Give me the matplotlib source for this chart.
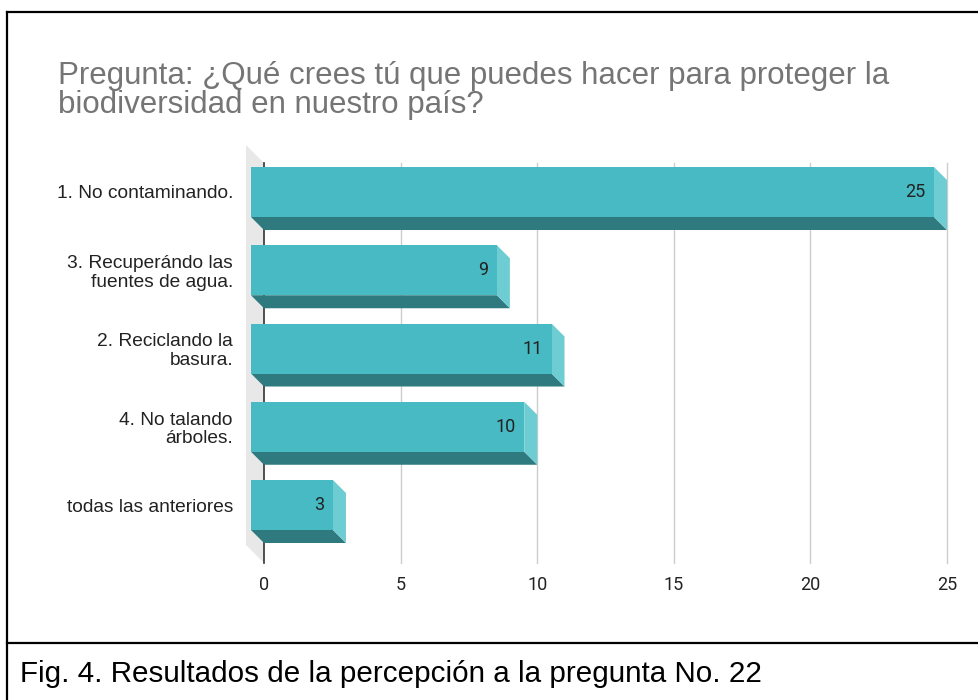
import numpy as np
import matplotlib.pyplot as plt
from matplotlib.patches import Polygon
from matplotlib.lines import Line2D

# ----------------------------
# Data
# ----------------------------
categories = [
    "1. No contaminando.",
    "3. Recuperándo las\nfuentes de agua.",
    "2. Reciclando la\nbasura.",
    "4. No talando\nárboles.",
    "todas las anteriores",
]
values = [25, 9, 11, 10, 3]
x_ticks = [0, 5, 10, 15, 20, 25]

title = "Pregunta: ¿Qué crees tú que puedes hacer para proteger la\nbiodiversidad en nuestro país?"
caption = "Fig. 4. Resultados de la percepción a la pregunta No. 22"

FRONT = "#47bac3"
BOTTOM = "#2e7a7e"
SIDE = "#6dcdd3"

W, H = 979, 700
plt.rcParams['font.family'] = ['Liberation Sans', 'DejaVu Sans']

fig = plt.figure(figsize=(W / 100, H / 100), dpi=100)

# axes placed in pixels (back plane of the 3d chart)
left_px, right_px, top_px, bottom_px = 264, 947, 163, 563
ax = fig.add_axes([left_px / W, 1 - bottom_px / H,
                   (right_px - left_px) / W, (bottom_px - top_px) / H])

px_per_x = (right_px - left_px) / 25.0
px_per_cat = 78.25
first_center = 205.0
ax.set_xlim(0, 25)
ax.set_ylim((bottom_px - first_center) / px_per_cat,
            (top_px - first_center) / px_per_cat)

depth = 13.0
dx = depth / px_per_x
dy = depth / px_per_cat
bar_h = 50.0 / px_per_cat

# left wall
wdx = 18.0 / px_per_x
wdy = 18.0 / px_per_cat
y0, y1 = ax.get_ylim()[1], ax.get_ylim()[0]
ax.add_patch(Polygon([(-wdx, y0 - wdy), (0, y0), (0, y1), (-wdx, y1 - wdy)],
                     closed=True, facecolor="#e8e8e8", edgecolor="none",
                     clip_on=False, zorder=0))

# grid
for t in x_ticks[1:]:
    ax.axvline(t, color="#cccccc", lw=1, zorder=1, clip_on=False)
ax.axvline(0, color="#333333", lw=1.2, zorder=1, clip_on=False)

for i, v in enumerate(values):
    yf = i - dy
    top, bot = yf - bar_h / 2, yf + bar_h / 2
    ax.add_patch(Polygon([(-dx, bot), (v - dx, bot), (v, bot + dy), (0, bot + dy)],
                         closed=True, facecolor=BOTTOM, edgecolor="none",
                         clip_on=False, zorder=2))
    ax.add_patch(Polygon([(v - dx, top), (v, top + dy), (v, bot + dy), (v - dx, bot)],
                         closed=True, facecolor=SIDE, edgecolor="none",
                         clip_on=False, zorder=2))
    ax.barh(yf, v, left=-dx, height=bar_h, color=FRONT, zorder=3, clip_on=False)
    ax.annotate(str(v), xy=(v - dx, yf), xytext=(-6, 0), textcoords="offset points",
                ha="right", va="center", fontsize=13, color="#222222", zorder=4,
                family=["Roboto", "DejaVu Sans"])

ax.set_xticks(x_ticks)
ax.set_xticklabels([str(t) for t in x_ticks], family=["Roboto", "DejaVu Sans"])
ax.set_yticks([i - dy for i in range(len(categories))])
ax.set_yticklabels(categories, linespacing=1.1)
ax.tick_params(axis="x", length=0, pad=9, labelsize=13, labelcolor="#222222")
ax.tick_params(axis="y", length=0, pad=(left_px - 233) * 0.72, labelsize=13.8,
               labelcolor="#222222")
for s in ax.spines.values():
    s.set_visible(False)

# title (baseline of the last line)
fig.text(58 / W, 1 - 113 / H, title, ha="left", va="baseline", fontsize=22.5,
         color="#757575", linespacing=0.95)

# frame lines and caption
lw = 1.6
fig.add_artist(Line2D([7 / W, 1], [1 - 12 / H, 1 - 12 / H], color="black", lw=lw))
fig.add_artist(Line2D([7 / W, 7 / W], [0, 1 - 12 / H], color="black", lw=lw))
fig.add_artist(Line2D([7 / W, 1], [1 - 643 / H, 1 - 643 / H], color="black", lw=lw))
fig.text(20 / W, 1 - 682 / H, caption, ha="left", va="baseline", fontsize=21.3,
         color="black")

fig.savefig("out.png", dpi=100, facecolor="white")
plt.close(fig)
